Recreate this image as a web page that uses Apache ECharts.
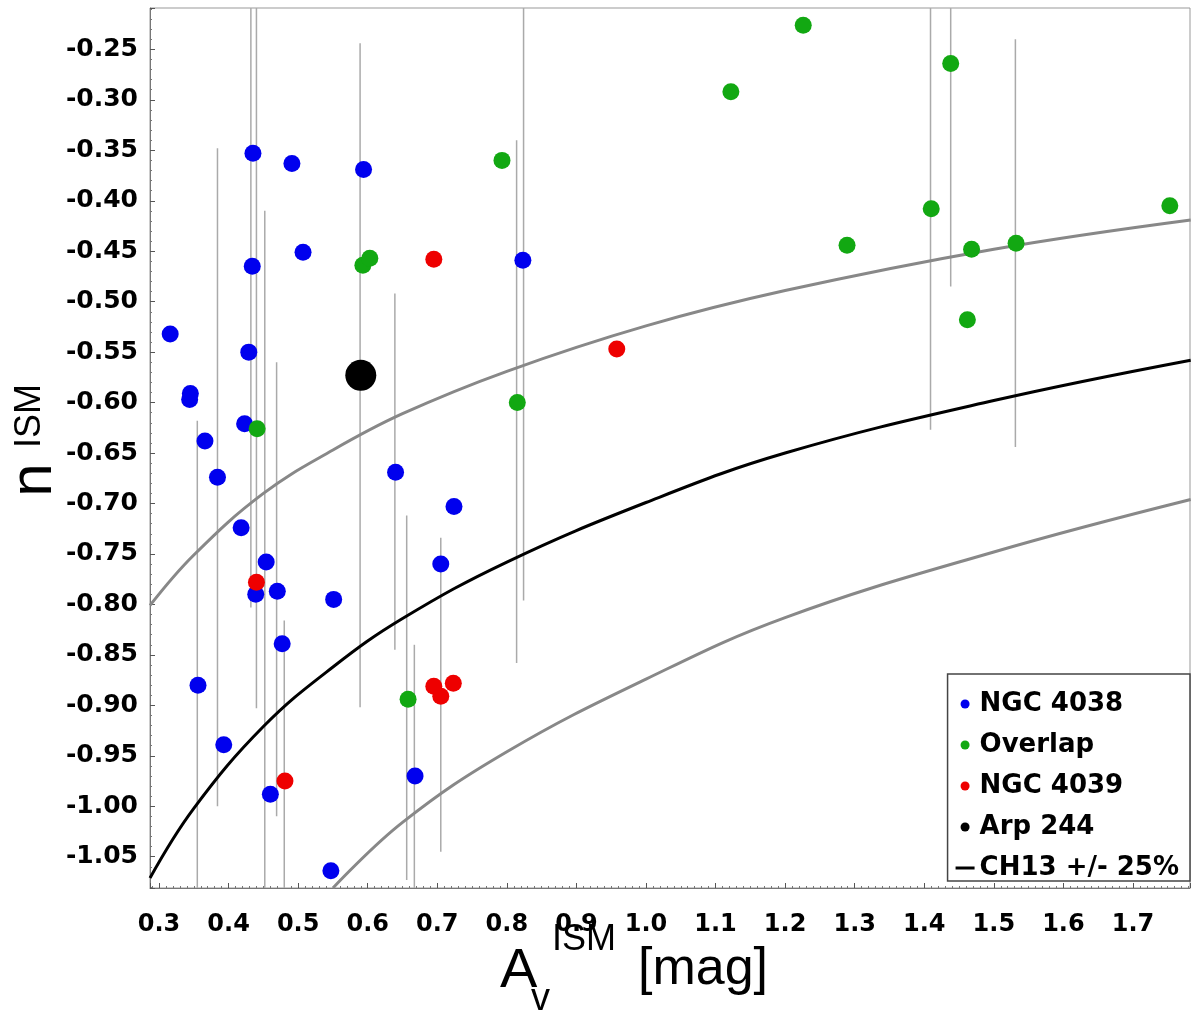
<!DOCTYPE html>
<html>
<head>
<meta charset="utf-8">
<script src="https://cdn.jsdelivr.net/npm/echarts@6/dist/echarts.min.js"></script>
<style>
html, body { margin: 0; padding: 0; background: #fff; }
#chart { width: 1200px; height: 1018px; }
</style>
</head>
<body>
<div id="chart"></div>
<script>
// [Av, n] pairs
const ngc4038 = [
    [0.316, -0.532], [0.345, -0.591], [0.344, -0.597], [0.366, -0.638], [0.384, -0.674],
    [0.356, -0.880], [0.393, -0.939], [0.418, -0.724], [0.423, -0.621], [0.429, -0.550],
    [0.434, -0.465], [0.435, -0.353], [0.491, -0.363], [0.507, -0.451], [0.594, -0.369],
    [0.823, -0.459], [0.454, -0.758], [0.439, -0.790], [0.470, -0.787], [0.477, -0.839],
    [0.551, -0.795], [0.460, -0.988], [0.547, -1.064], [0.640, -0.669], [0.724, -0.703],
    [0.705, -0.760], [0.668, -0.970]
];
const overlap = [
    [0.441, -0.626], [0.593, -0.464], [0.603, -0.457], [0.793, -0.360], [0.815, -0.600],
    [0.658, -0.894], [1.122, -0.292], [1.226, -0.226], [1.438, -0.264], [1.410, -0.408],
    [1.289, -0.444], [1.468, -0.448], [1.532, -0.442], [1.753, -0.405], [1.462, -0.518]
];
const ngc4039 = [
    [0.695, -0.458], [0.958, -0.547], [0.440, -0.778], [0.481, -0.975],
    [0.695, -0.881], [0.705, -0.891], [0.723, -0.878]
];
const arp244 = [[0.590, -0.573]];

// vertical error bars: x, upper end, lower end
const errX      = [0.355, 0.384, 0.432, 0.440, 0.452, 0.469, 0.480, 0.589, 0.639, 0.656, 0.667, 0.705, 0.814, 0.824, 1.409, 1.438, 1.531];
const errTop    = [-0.618, -0.348, -0.150, -0.150, -0.410, -0.560, -0.816, -0.244, -0.492, -0.712, -0.840, -0.734, -0.340, -0.150, -0.150, -0.150, -0.240];
const errBottom = [-1.140, -1.000, -0.803, -0.903, -1.100, -1.010, -1.140, -0.902, -0.845, -1.073, -1.100, -1.045, -0.858, -0.796, -0.627, -0.485, -0.644];

// CH13 relation and +/- 25 %
const curveX = [0.287, 0.35, 0.45, 0.55, 0.65, 0.8, 1.0, 1.2, 1.5, 1.783];
const ch13Y  = [-1.071, -1.002, -0.921, -0.862, -0.814, -0.758, -0.699, -0.650, -0.598, -0.558];
const upperY = [-0.801, -0.751, -0.690, -0.647, -0.611, -0.569, -0.524, -0.489, -0.448, -0.419];
const lowerX = [0.550, 0.65, 0.8, 1.0, 1.2, 1.5, 1.783];
const lowerY = [-1.081, -1.016, -0.946, -0.874, -0.813, -0.748, -0.696];

const xMin = 0.287, xMax = 1.782;
const yMin = -1.081, yMax = -0.209;

const zip = (xs, ys) => xs.map((x, i) => [x, ys[i]]);
const errData = errX.map((x, i) => [x, errTop[i], errBottom[i]]);

const tickFont = { color: '#000', fontWeight: 'bold', fontFamily: 'DejaVu Sans' };
const titleFont = '"Liberation Sans", Arial, sans-serif';

const myChart = echarts.init(document.getElementById('chart'));

function titleText(x, y, text, size, rotation) {
    return {
        type: 'text', x: x, y: y, rotation: rotation || 0,
        style: {
            text: text, font: size + 'px ' + titleFont, fill: '#000',
            textAlign: rotation ? 'center' : 'left', align: rotation ? 'center' : 'left',
            textVerticalAlign: 'middle', verticalAlign: 'middle'
        }
    };
}

const option = {
    backgroundColor: '#fff',
    animation: false,
    grid: {
        left: 150, right: 10, top: 8, bottom: 130,
        show: true, borderColor: '#999', borderWidth: 1
    },
    xAxis: {
        type: 'value',
        min: xMin, max: xMax,
        splitNumber: 15,
        splitLine: { show: false },
        axisLine: { lineStyle: { color: '#777', width: 1 } },
        axisTick: { inside: true, length: 5, lineStyle: { color: '#555' } },
        minorTick: { show: true, splitNumber: 10, length: 2, lineStyle: { color: '#777' } },
        axisLabel: Object.assign({
            fontSize: 24, margin: 25,
            showMinLabel: false, showMaxLabel: false,
            formatter: v => v.toFixed(1)
        }, tickFont)
    },
    yAxis: {
        type: 'value',
        min: yMin, max: yMax,
        splitNumber: 17,
        splitLine: { show: false },
        axisLine: { show: true, lineStyle: { color: '#777', width: 1 } },
        axisTick: { show: true, inside: true, length: 5, lineStyle: { color: '#555' } },
        minorTick: { show: true, splitNumber: 5, length: 2, lineStyle: { color: '#777' } },
        axisLabel: Object.assign({
            fontSize: 25, margin: 12,
            showMinLabel: false, showMaxLabel: false,
            formatter: v => v.toFixed(2)
        }, tickFont)
    },
    legend: {
        orient: 'vertical',
        right: 10, top: 674,
        padding: [17, 11, 0, 8],
        itemGap: 15,
        itemWidth: 19, itemHeight: 9,
        itemTextGap: 10,
        selectedMode: false,
        backgroundColor: '#fff',
        borderColor: '#444', borderWidth: 1.5,
        textStyle: { color: '#000', fontSize: 26, lineHeight: 26, fontWeight: 'bold', fontFamily: 'DejaVu Sans' },
        data: [
            { name: 'NGC 4038', icon: 'circle' },
            { name: 'Overlap', icon: 'circle' },
            { name: 'NGC 4039', icon: 'circle' },
            { name: 'Arp 244', icon: 'circle' },
            { name: 'CH13 +/- 25%', icon: 'path://M0,0L19,0L19,3L0,3Z' }
        ]
    },
    graphic: [
        titleText(500, 972, 'A', 56),
        titleText(531, 1000, 'v', 38),
        titleText(552, 940, 'ISM', 36),
        titleText(638, 970, '[mag]', 52),
        titleText(34, 480, 'n', 60, Math.PI / 2),
        titleText(30, 416, 'ISM', 36, Math.PI / 2)
    ],
    series: [
        {
            name: 'errors',
            type: 'custom',
            z: 1,
            silent: true,
            data: errData,
            renderItem: (params, api) => {
                const cs = params.coordSys;
                const top = api.coord([api.value(0), api.value(1)]);
                const bot = api.coord([api.value(0), api.value(2)]);
                return {
                    type: 'line',
                    shape: {
                        x1: top[0], y1: Math.max(top[1], cs.y),
                        x2: bot[0], y2: Math.min(bot[1], cs.y + cs.height)
                    },
                    style: { stroke: '#aaa', lineWidth: 1.5 }
                };
            }
        },
        {
            name: 'CH13 +25%',
            type: 'line', z: 2, smooth: 0.4,
            showSymbol: false, silent: true,
            data: zip(curveX, upperY),
            lineStyle: { color: '#888', width: 3 }
        },
        {
            name: 'CH13 -25%',
            type: 'line', z: 2, smooth: 0.4,
            showSymbol: false, silent: true,
            data: zip(lowerX, lowerY),
            lineStyle: { color: '#888', width: 3 }
        },
        {
            name: 'CH13 +/- 25%',
            type: 'line', z: 2, smooth: 0.4,
            showSymbol: false, silent: true,
            data: zip(curveX, ch13Y),
            color: '#000',
            lineStyle: { color: '#000', width: 3 }
        },
        {
            name: 'NGC 4038', type: 'scatter', z: 3, symbolSize: 17,
            data: ngc4038, itemStyle: { color: '#0000ee', opacity: 1 }
        },
        {
            name: 'Overlap', type: 'scatter', z: 3, symbolSize: 17,
            data: overlap, itemStyle: { color: '#12a812', opacity: 1 }
        },
        {
            name: 'NGC 4039', type: 'scatter', z: 3, symbolSize: 17,
            data: ngc4039, itemStyle: { color: '#ee0000', opacity: 1 }
        },
        {
            name: 'Arp 244', type: 'scatter', z: 3, symbolSize: 31,
            data: arp244, itemStyle: { color: '#000', opacity: 1 }
        }
    ]
};

myChart.setOption(option);
</script>
</body>
</html>
